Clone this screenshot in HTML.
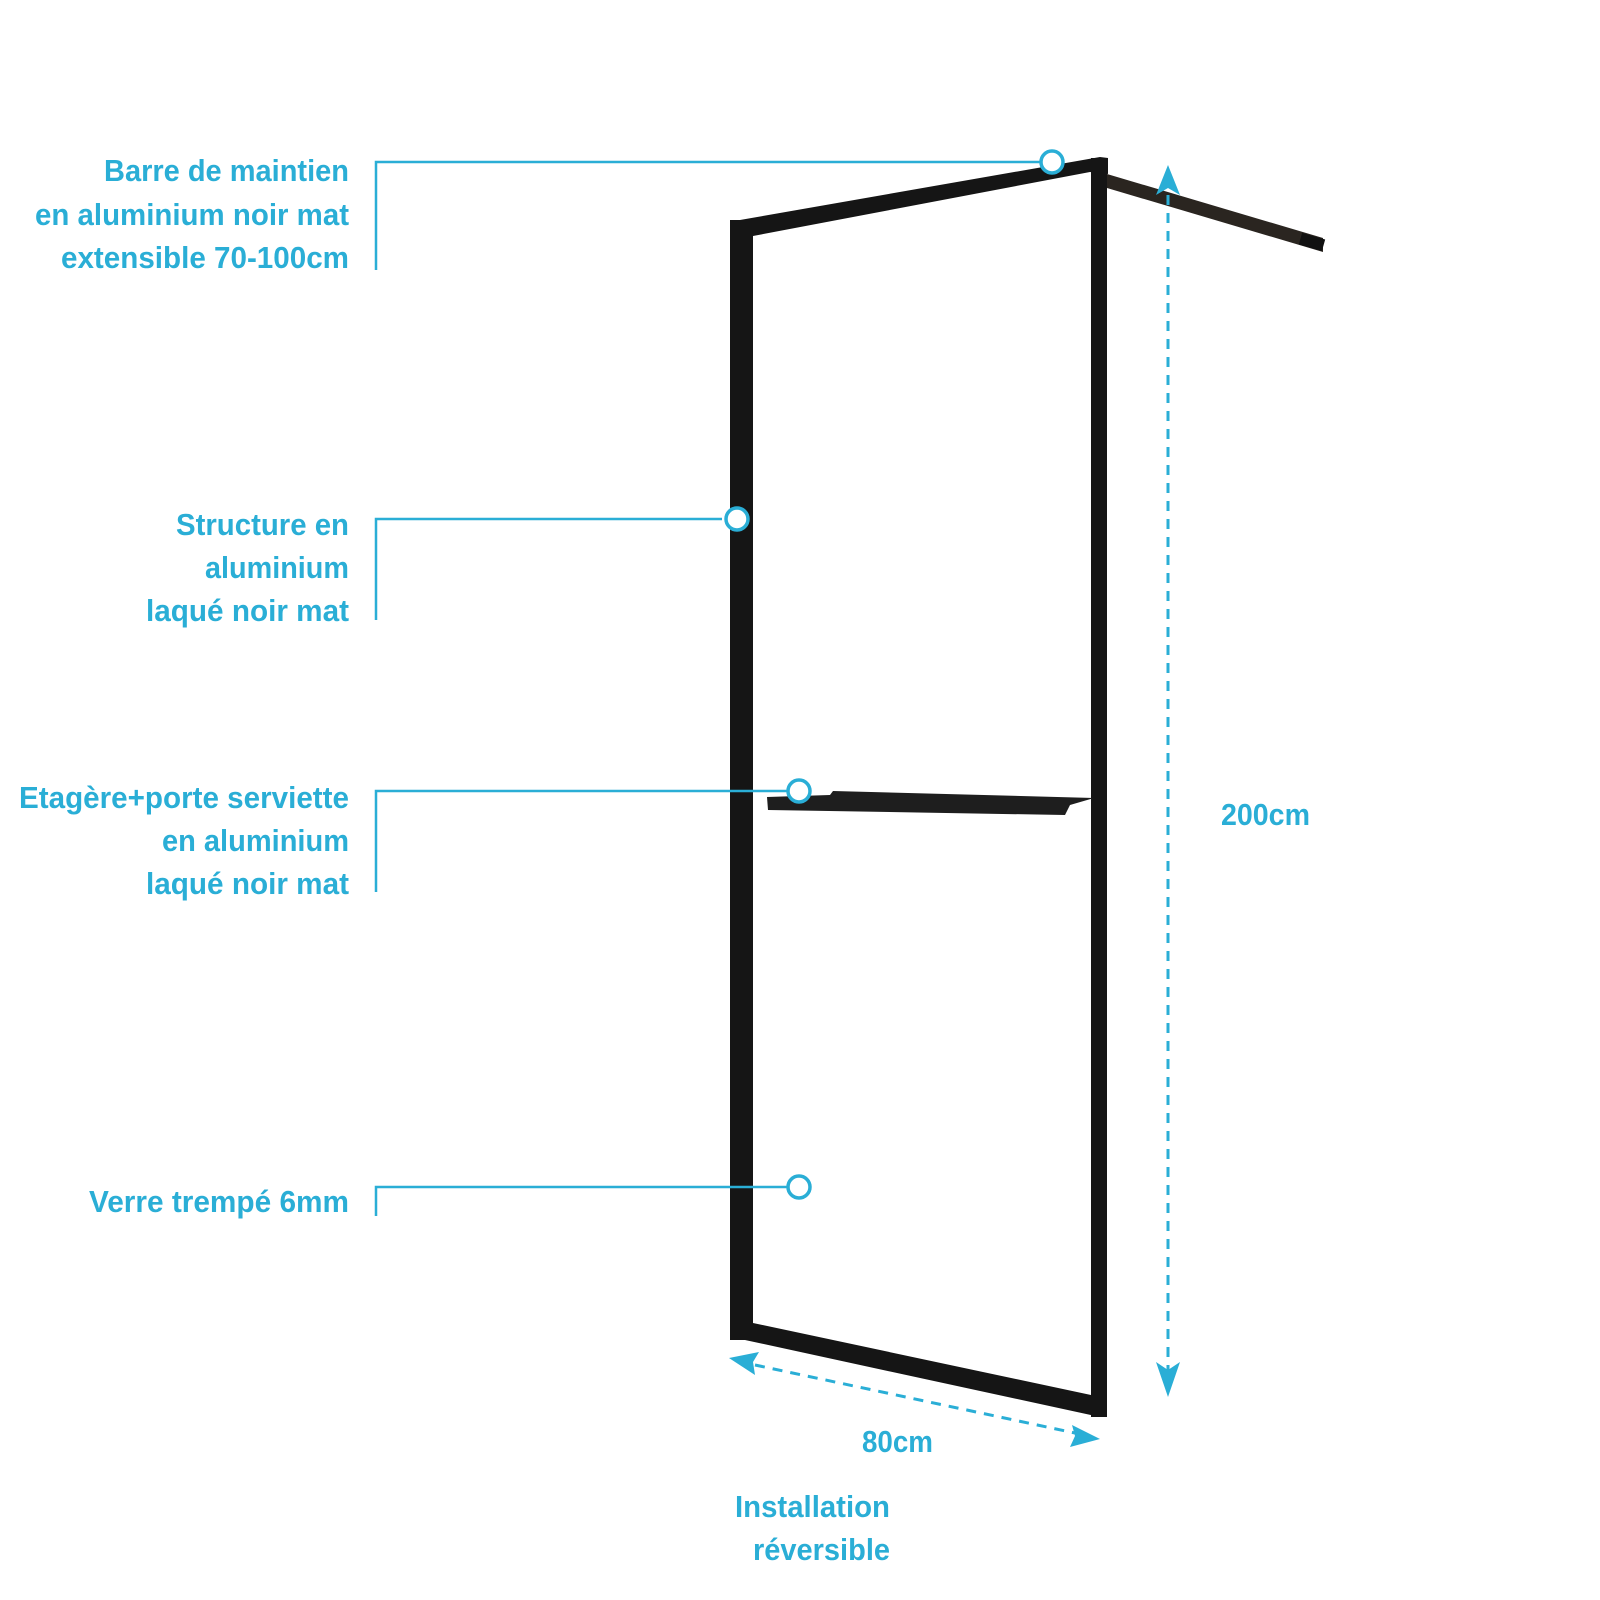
<!DOCTYPE html>
<html><head><meta charset="utf-8"><style>
html,body{margin:0;padding:0;background:#fff;}
svg{display:block;}
text{font-family:"Liberation Sans Narrow","Liberation Sans",sans-serif;fill:#2aaed6;font-size:31px;font-weight:bold;}
</style></head><body>
<svg width="1600" height="1600" viewBox="0 0 1600 1600" xmlns="http://www.w3.org/2000/svg">
<g fill="#151515">
  <rect x="730" y="220" width="23" height="1120"/>
  <polygon points="740,220 1100,157 1108,158 1108,174 1090,172 753,236 740,236"/>
  <rect x="1091" y="158" width="16" height="1259"/>
  <polygon points="745,1323 753,1323 1091,1395 1107,1395 1107,1417 1100,1417 745,1340"/>
  <polygon points="1107,174 1323,238 1323,252 1107,188" fill="#2a2520"/>
  <rect x="1300" y="236" width="24" height="12" transform="rotate(16 1312 242)" fill="#111"/>
  <polygon points="767,797 830,795 833,791 1094,798 1070,805 1065,815 768,810" fill="#1e1e1e"/>
</g>
<g stroke="#2aaed6" stroke-width="2.5" fill="none">
  <polyline points="376,270 376,162 1041,162"/>
  <polyline points="376,620 376,519 722,519"/>
  <polyline points="376,892 376,791 788,791"/>
  <polyline points="376,1216 376,1187 788,1187"/>
</g>
<g stroke="#2aaed6" stroke-width="3.5" fill="#fff">
  <circle cx="1052" cy="162" r="11"/>
  <circle cx="737" cy="519" r="11"/>
  <circle cx="799" cy="791" r="11"/>
  <circle cx="799" cy="1187" r="11"/>
</g>
<g stroke="#2aaed6" stroke-width="3" stroke-dasharray="10,8" fill="none">
  <line x1="1168" y1="195" x2="1168" y2="1370"/>
  <line x1="755" y1="1365" x2="1075" y2="1433"/>
</g>
<g fill="#2aaed6">
  <polygon points="1168,165 1180,195 1168,188 1156,195"/>
  <polygon points="1168,1397 1180,1362 1168,1370 1156,1362"/>
  <polygon points="729,1358 759,1352 753,1362 755,1375"/>
  <polygon points="1100,1439 1070,1447 1075,1436 1072,1425"/>
</g>
<g text-anchor="end">
  <text x="349" y="181" textLength="245" lengthAdjust="spacingAndGlyphs">Barre de maintien</text>
  <text x="349" y="225" textLength="314" lengthAdjust="spacingAndGlyphs">en aluminium noir mat</text>
  <text x="349" y="268" textLength="288" lengthAdjust="spacingAndGlyphs">extensible 70-100cm</text>
  <text x="349" y="535" textLength="173" lengthAdjust="spacingAndGlyphs">Structure en</text>
  <text x="349" y="578" textLength="144" lengthAdjust="spacingAndGlyphs">aluminium</text>
  <text x="349" y="621" textLength="203" lengthAdjust="spacingAndGlyphs">laqué noir mat</text>
  <text x="349" y="808" textLength="330" lengthAdjust="spacingAndGlyphs">Etagère+porte serviette</text>
  <text x="349" y="851" textLength="187" lengthAdjust="spacingAndGlyphs">en aluminium</text>
  <text x="349" y="894" textLength="203" lengthAdjust="spacingAndGlyphs">laqué noir mat</text>
  <text x="349" y="1212" textLength="260" lengthAdjust="spacingAndGlyphs">Verre trempé 6mm</text>
  <text x="890" y="1517" textLength="155" lengthAdjust="spacingAndGlyphs">Installation</text>
  <text x="890" y="1560" textLength="137" lengthAdjust="spacingAndGlyphs">réversible</text>
</g>
<text x="1221" y="825" textLength="89" lengthAdjust="spacingAndGlyphs">200cm</text>
<text x="862" y="1452" textLength="71" lengthAdjust="spacingAndGlyphs">80cm</text>
</svg>
</body></html>
